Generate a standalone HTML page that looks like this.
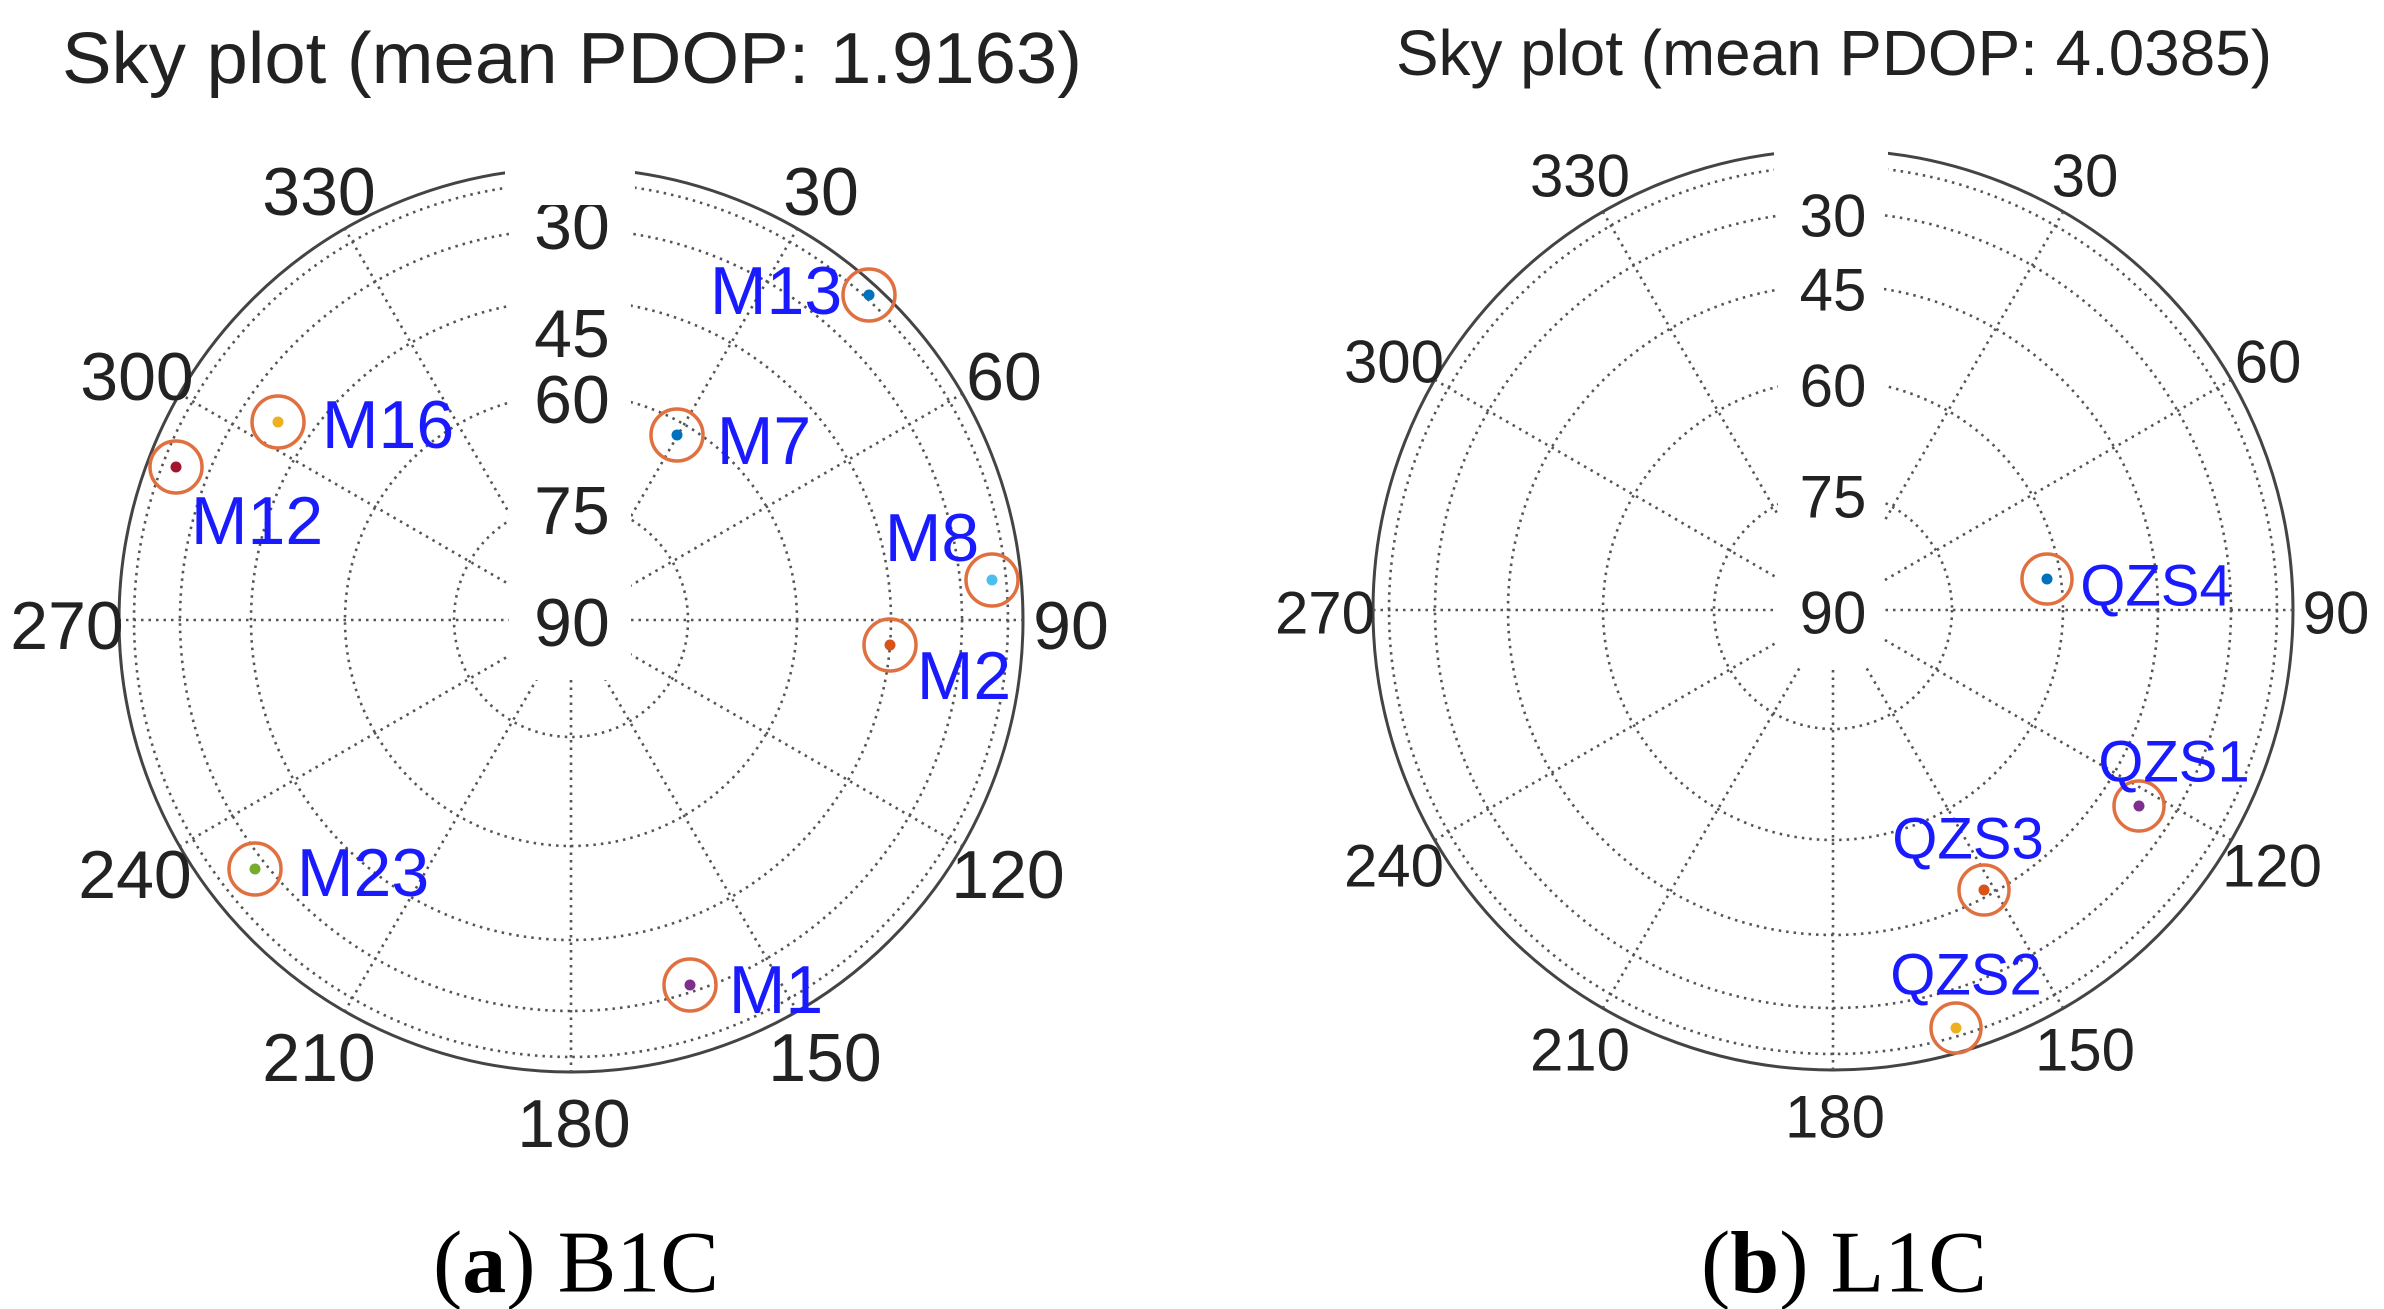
<!DOCTYPE html>
<html><head><meta charset="utf-8"><style>
html,body{margin:0;padding:0;background:#fff;}
svg{display:block;}
text{font-family:"Liberation Sans",sans-serif;}
.g{fill:none;stroke:#555;stroke-width:2.6;stroke-dasharray:2.5 5;}
.o{fill:none;stroke:#444;stroke-width:3;}
.ax{font-size:68px;fill:#222;text-anchor:middle;dominant-baseline:central;}
.ax2{font-size:60px;fill:#222;text-anchor:middle;dominant-baseline:central;}
.sl{font-size:68px;fill:#1a1aff;text-anchor:middle;dominant-baseline:central;}
.sl2{font-size:58px;fill:#1a1aff;text-anchor:middle;dominant-baseline:central;}
.ring{fill:none;stroke:#e0703f;stroke-width:3.5;}
.cap{font-family:"Liberation Serif",serif;font-size:88px;fill:#000;text-anchor:middle;dominant-baseline:central;}
</style></head><body>
<svg width="2384" height="1309" viewBox="0 0 2384 1309" xmlns="http://www.w3.org/2000/svg">
<!-- LEFT PLOT -->
<text x="572" y="83" font-size="72" fill="#222" text-anchor="middle" textLength="1020" lengthAdjust="spacingAndGlyphs">Sky plot (mean PDOP: 1.9163)</text>
<circle class="o" cx="571" cy="620" r="452"/>
<g class="g">
<circle cx="571" cy="620" r="437"/>
<circle cx="571" cy="620" r="391"/>
<circle cx="571" cy="620" r="320"/>
<circle cx="571" cy="620" r="226"/>
<circle cx="571" cy="620" r="117"/>
<line x1="571" y1="620" x2="797" y2="229"/>
<line x1="571" y1="620" x2="962" y2="394"/>
<line x1="571" y1="620" x2="1023" y2="620"/>
<line x1="571" y1="620" x2="962" y2="846"/>
<line x1="571" y1="620" x2="797" y2="1011"/>
<line x1="571" y1="620" x2="571" y2="1072"/>
<line x1="571" y1="620" x2="345" y2="1011"/>
<line x1="571" y1="620" x2="180" y2="846"/>
<line x1="571" y1="620" x2="119" y2="620"/>
<line x1="571" y1="620" x2="180" y2="394"/>
<line x1="571" y1="620" x2="345" y2="229"/>
</g>
<rect x="509" y="110" width="122" height="570" fill="#fff"/>
<text class="ax" x="572" y="226">30</text>
<rect x="505" y="150" width="130" height="55" fill="#fff"/>
<text class="ax" x="572" y="334">45</text>
<text class="ax" x="572" y="400">60</text>
<text class="ax" x="572" y="511">75</text>
<text class="ax" x="572" y="623">90</text>
<text class="ax" x="319" y="192">330</text>
<text class="ax" x="821" y="192">30</text>
<text class="ax" x="137" y="377">300</text>
<text class="ax" x="1004" y="377">60</text>
<text class="ax" x="67" y="626">270</text>
<text class="ax" x="1071" y="626">90</text>
<text class="ax" x="135" y="875">240</text>
<text class="ax" x="1008" y="875">120</text>
<text class="ax" x="319" y="1058">210</text>
<text class="ax" x="825" y="1058">150</text>
<text class="ax" x="574" y="1124">180</text>
<circle class="ring" cx="869" cy="295" r="26"/><circle cx="869" cy="295" r="5.5" fill="#0072BD"/>
<circle class="ring" cx="677" cy="435" r="26"/><circle cx="677" cy="435" r="5.5" fill="#0072BD"/>
<circle class="ring" cx="278" cy="422" r="26"/><circle cx="278" cy="422" r="5.5" fill="#EDB120"/>
<circle class="ring" cx="176" cy="467" r="26"/><circle cx="176" cy="467" r="5.5" fill="#A2142F"/>
<circle class="ring" cx="992" cy="580" r="26"/><circle cx="992" cy="580" r="5.5" fill="#4DBEEE"/>
<circle class="ring" cx="890" cy="645" r="26"/><circle cx="890" cy="645" r="5.5" fill="#D95319"/>
<circle class="ring" cx="255" cy="869" r="26"/><circle cx="255" cy="869" r="5.5" fill="#77AC30"/>
<circle class="ring" cx="690" cy="985" r="26"/><circle cx="690" cy="985" r="5.5" fill="#7E2F8E"/>
<text class="sl" x="776" y="291">M13</text>
<text class="sl" x="764" y="441">M7</text>
<text class="sl" x="388" y="425">M16</text>
<text class="sl" x="257" y="521">M12</text>
<text class="sl" x="932" y="538">M8</text>
<text class="sl" x="964" y="676">M2</text>
<text class="sl" x="363" y="873">M23</text>
<text class="sl" x="776" y="990">M1</text>
<text class="cap" x="576" y="1263">(<tspan font-weight="bold">a</tspan>) B1C</text>

<!-- RIGHT PLOT -->
<text x="1834" y="75" font-size="64" fill="#222" text-anchor="middle" textLength="876" lengthAdjust="spacingAndGlyphs">Sky plot (mean PDOP: 4.0385)</text>
<circle class="o" cx="1833" cy="610" r="460"/>
<g class="g">
<circle cx="1833" cy="610" r="444"/>
<circle cx="1833" cy="610" r="398"/>
<circle cx="1833" cy="610" r="325"/>
<circle cx="1833" cy="610" r="230"/>
<circle cx="1833" cy="610" r="119"/>
<line x1="1833" y1="610" x2="2063" y2="212"/>
<line x1="1833" y1="610" x2="2231" y2="380"/>
<line x1="1833" y1="610" x2="2293" y2="610"/>
<line x1="1833" y1="610" x2="2231" y2="840"/>
<line x1="1833" y1="610" x2="2063" y2="1008"/>
<line x1="1833" y1="610" x2="1833" y2="1070"/>
<line x1="1833" y1="610" x2="1603" y2="1008"/>
<line x1="1833" y1="610" x2="1435" y2="840"/>
<line x1="1833" y1="610" x2="1373" y2="610"/>
<line x1="1833" y1="610" x2="1435" y2="380"/>
<line x1="1833" y1="610" x2="1603" y2="212"/>
</g>
<rect x="1778" y="110" width="106" height="555" fill="#fff"/>
<text class="ax2" x="1833" y="216">30</text>
<rect x="1774" y="130" width="114" height="58" fill="#fff"/>
<text class="ax2" x="1833" y="290">45</text>
<text class="ax2" x="1833" y="386">60</text>
<text class="ax2" x="1833" y="497">75</text>
<text class="ax2" x="1833" y="613">90</text>
<text class="ax2" x="1580" y="176">330</text>
<text class="ax2" x="2085" y="176">30</text>
<text class="ax2" x="1394" y="362">300</text>
<text class="ax2" x="2268" y="362">60</text>
<text class="ax2" x="1325" y="613">270</text>
<text class="ax2" x="2336" y="613">90</text>
<text class="ax2" x="1394" y="866">240</text>
<text class="ax2" x="2272" y="866">120</text>
<text class="ax2" x="1580" y="1050">210</text>
<text class="ax2" x="2085" y="1050">150</text>
<text class="ax2" x="1835" y="1117">180</text>
<circle class="ring" cx="2047" cy="579" r="25"/><circle cx="2047" cy="579" r="5.5" fill="#0072BD"/>
<circle class="ring" cx="2139" cy="806" r="25"/><circle cx="2139" cy="806" r="5.5" fill="#7E2F8E"/>
<circle class="ring" cx="1984" cy="890" r="25"/><circle cx="1984" cy="890" r="5.5" fill="#D95319"/>
<circle class="ring" cx="1956" cy="1028" r="25"/><circle cx="1956" cy="1028" r="5.5" fill="#EDB120"/>
<text class="sl2" x="2156" y="586">QZS4</text>
<text class="sl2" x="2174" y="762">QZS1</text>
<text class="sl2" x="1968" y="839">QZS3</text>
<text class="sl2" x="1966" y="975">QZS2</text>
<text class="cap" x="1844" y="1263">(<tspan font-weight="bold">b</tspan>) L1C</text>
</svg>
</body></html>
